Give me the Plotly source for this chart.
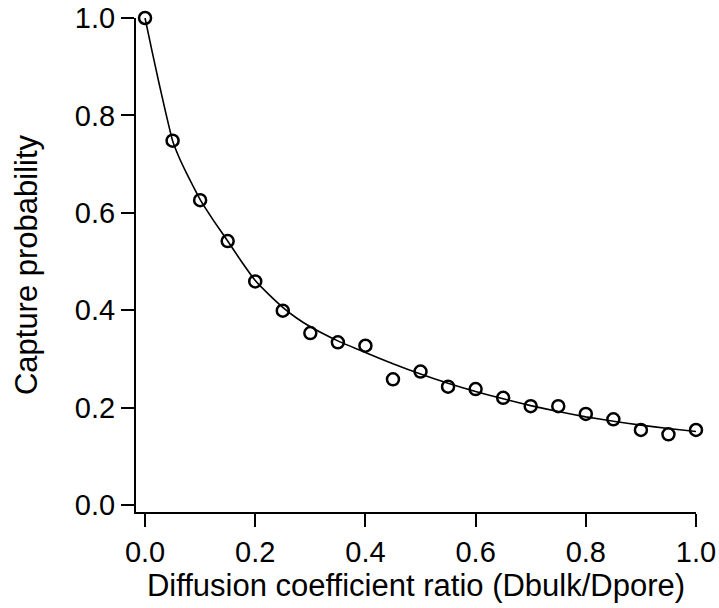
import plotly.graph_objects as go

# Measured data points (open circles)
ratio = [0.0, 0.05, 0.10, 0.15, 0.20, 0.25, 0.30, 0.35, 0.40, 0.45, 0.50,
         0.55, 0.60, 0.65, 0.70, 0.75, 0.80, 0.85, 0.90, 0.95, 1.00]
capture = [1.000, 0.748, 0.626, 0.542, 0.459, 0.399, 0.353, 0.334, 0.327, 0.258, 0.274,
           0.243, 0.238, 0.220, 0.203, 0.203, 0.187, 0.176, 0.154, 0.145, 0.154]

# Fitted curve
fit_x = [0.0, 0.0125, 0.025, 0.0375, 0.05, 0.0625, 0.075, 0.0875, 0.10, 0.125,
         0.15, 0.175, 0.20, 0.225, 0.25, 0.275, 0.30, 0.35,
         0.40, 0.45, 0.50, 0.55, 0.60, 0.65, 0.70, 0.75, 0.80, 0.85, 0.90, 0.95, 1.00]
fit_y = [1.000, 0.933, 0.868, 0.806, 0.748, 0.712, 0.682, 0.654, 0.627, 0.583,
         0.542, 0.500, 0.461, 0.432, 0.406, 0.384, 0.366, 0.337,
         0.313, 0.290, 0.269, 0.250, 0.233, 0.218, 0.204, 0.192, 0.181, 0.172, 0.164, 0.157, 0.151]

tick_vals = [0.0, 0.2, 0.4, 0.6, 0.8, 1.0]
tick_text = ["0.0", "0.2", "0.4", "0.6", "0.8", "1.0"]

FONT = "Liberation Sans, Arial, Helvetica, sans-serif"

fig = go.Figure()
fig.add_trace(go.Scatter(
    x=fit_x, y=fit_y, mode="lines",
    line=dict(color="black", width=1.6, shape="spline", smoothing=0.4),
    cliponaxis=False, showlegend=False, hoverinfo="skip"))
fig.add_trace(go.Scatter(
    x=ratio, y=capture, mode="markers",
    marker=dict(symbol="circle-open", size=12, color="black", line=dict(width=2.5, color="black")),
    cliponaxis=False, showlegend=False))

axis_common = dict(
    showline=True, linewidth=2, linecolor="black",
    ticks="outside", ticklen=13, tickwidth=2, tickcolor="black",
    showgrid=False, zeroline=False, automargin=False,
    tickvals=tick_vals, ticktext=tick_text,
    tickfont=dict(family=FONT, size=29, color="black"),
)

fig.update_layout(
    width=719, height=608,
    margin=dict(l=136, r=23, t=18, b=96),
    paper_bgcolor="white", plot_bgcolor="white",
    xaxis=dict(range=[-0.0164, 1.0],
               title=dict(text="Diffusion coefficient ratio (Dbulk/Dpore)",
                          font=dict(family=FONT, size=31, color="black"), standoff=7),
               **axis_common),
    yaxis=dict(range=[-0.0144, 1.0],
               title=dict(text="Capture probability",
                          font=dict(family=FONT, size=31, color="black"), standoff=28),
               **axis_common),
)

fig.write_html("out.html")
